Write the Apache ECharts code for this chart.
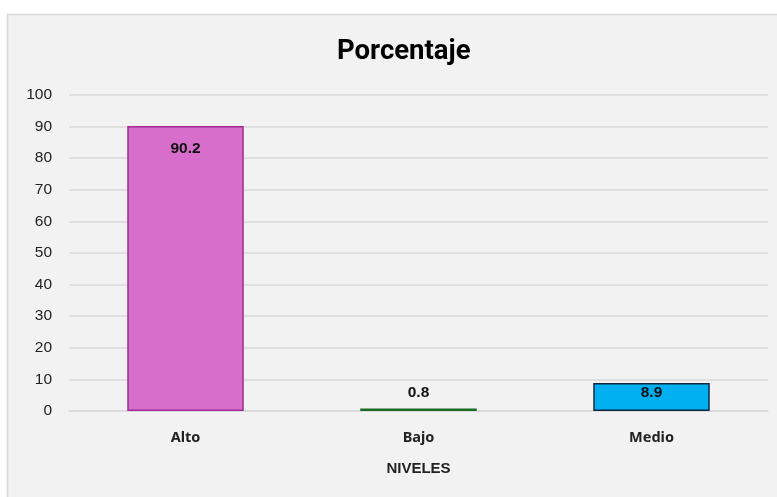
<!DOCTYPE html>
<html><head><meta charset="utf-8">
<script src="https://cdn.jsdelivr.net/npm/echarts@6/dist/echarts.min.js"></script>
<style>html,body{margin:0;padding:0;background:#fff}#c{width:777px;height:497px}</style>
</head><body><div id="c"></div>
<script>
const categories = ['Alto', 'Bajo', 'Medio'];
const values = [90.2, 0.8, 8.9];
const fills = ['#d86ecc', '#00b050', '#00b0f0'];
const borders = ['#a02b93', '#196b24', '#0e2841'];
const yTicks = { min: 0, max: 100, interval: 10 };

const chart = echarts.init(document.getElementById('c'));
const labelPos = [
  { position: 'insideTop', distance: 15 },
  { position: 'top', distance: 8 },
  { position: 'insideTop', distance: 2 }
];
chart.setOption({
  backgroundColor: '#ffffff',
  graphic: [{
    type: 'rect', z: -10, silent: true,
    shape: { x: 7.5, y: 14.5, width: 780, height: 490 },
    style: { fill: '#f2f2f2', stroke: '#d9d9d9', lineWidth: 1.5 }
  }],
  title: {
    text: 'Porcentaje', left: 332, top: 33,
    textStyle: { fontFamily: 'Roboto, sans-serif', fontWeight: 'bold', fontSize: 27.5, color: '#000' }
  },
  grid: { left: 69, right: 9, top: 95, bottom: 86 },
  xAxis: {
    type: 'category', data: categories,
    name: 'NIVELES', nameLocation: 'middle', nameGap: 50,
    nameTextStyle: { fontFamily: 'Liberation Sans, Arial, sans-serif', fontWeight: 'bold', fontSize: 15, color: '#222' },
    axisLine: { lineStyle: { color: '#d9d9d9', width: 1.5 } },
    axisTick: { show: false },
    axisLabel: { margin: 19, fontFamily: 'Noto Sans, sans-serif', fontWeight: 'bold', fontSize: 14.5, color: '#222' }
  },
  yAxis: {
    type: 'value', min: yTicks.min, max: yTicks.max, interval: yTicks.interval,
    axisLine: { show: false }, axisTick: { show: false },
    splitLine: { lineStyle: { color: '#d9d9d9', width: 1.5 } },
    axisLabel: { margin: 17, fontFamily: 'Liberation Sans, Arial, sans-serif', fontSize: 15.5, color: '#222' }
  },
  series: [{
    type: 'bar', barWidth: '50%',
    data: values.map((v, i) => ({
      value: v,
      itemStyle: { color: fills[i], borderColor: borders[i], borderWidth: 1.5 },
      label: { show: true, position: labelPos[i].position, distance: labelPos[i].distance,
        fontFamily: 'Liberation Sans, Arial, sans-serif', fontWeight: 'bold', fontSize: 15.5, color: '#111' }
    })),
    animation: false
  }],
  animation: false
});
</script></body></html>
